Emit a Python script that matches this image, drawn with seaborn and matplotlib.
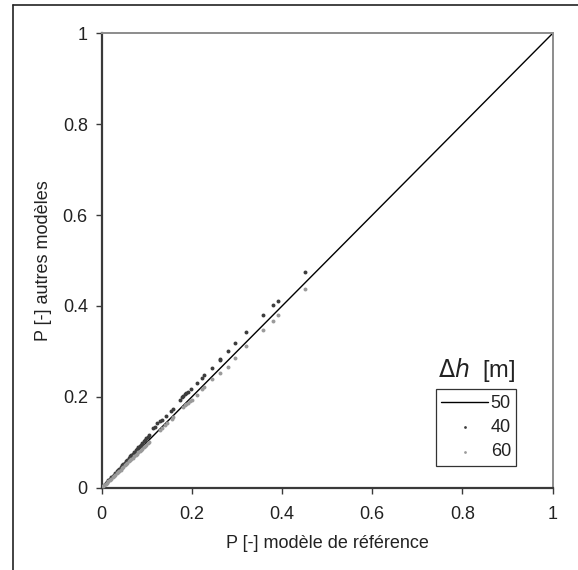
import matplotlib
matplotlib.use("Agg")
import matplotlib.pyplot as plt
from matplotlib.lines import Line2D
import seaborn as sns
import pandas as pd

# ---- data ----
line_x = [0.0, 1.0]
line_y = [0.0, 1.0]

x40 = [0.003, 0.006, 0.009, 0.012, 0.015, 0.018, 0.021, 0.024, 0.027, 0.030,
       0.033, 0.036, 0.039, 0.042, 0.045, 0.048, 0.051, 0.054, 0.057, 0.060,
       0.063, 0.066, 0.069, 0.072, 0.075, 0.078, 0.081, 0.084, 0.087, 0.090,
       0.093, 0.096, 0.099, 0.102, 0.105,
       0.114, 0.118, 0.122, 0.129, 0.133, 0.143, 0.153, 0.157, 0.174, 0.177,
       0.181, 0.185, 0.188, 0.192, 0.198, 0.211, 0.222, 0.227, 0.245, 0.262,
       0.263, 0.279, 0.296, 0.321, 0.358, 0.379, 0.390, 0.451]
y40 = [0.003, 0.007, 0.010, 0.013, 0.016, 0.020, 0.023, 0.026, 0.029, 0.033,
       0.036, 0.039, 0.042, 0.046, 0.049, 0.052, 0.055, 0.059, 0.062, 0.065,
       0.069, 0.072, 0.075, 0.079, 0.082, 0.085, 0.089, 0.092, 0.095, 0.099,
       0.102, 0.105, 0.109, 0.112, 0.116,
       0.131, 0.134, 0.142, 0.147, 0.150, 0.158, 0.169, 0.173, 0.192, 0.199,
       0.202, 0.206, 0.208, 0.211, 0.218, 0.230, 0.241, 0.247, 0.264, 0.280,
       0.284, 0.301, 0.318, 0.343, 0.379, 0.402, 0.411, 0.474]

x60 = [0.003, 0.006, 0.009, 0.012, 0.015, 0.018, 0.021, 0.024, 0.027, 0.030,
       0.033, 0.036, 0.039, 0.042, 0.045, 0.048, 0.051, 0.054, 0.057, 0.060,
       0.063, 0.066, 0.069, 0.072, 0.075, 0.078, 0.081, 0.084, 0.087, 0.090,
       0.093, 0.096, 0.099, 0.102, 0.105,
       0.129, 0.133, 0.140, 0.144, 0.155, 0.159, 0.181, 0.185, 0.188, 0.192,
       0.196, 0.200, 0.211, 0.222, 0.227, 0.245, 0.262, 0.279, 0.296, 0.321,
       0.358, 0.379, 0.390, 0.451]
y60 = [0.003, 0.006, 0.009, 0.011, 0.014, 0.017, 0.020, 0.023, 0.026, 0.029,
       0.032, 0.034, 0.037, 0.040, 0.043, 0.046, 0.049, 0.052, 0.055, 0.058,
       0.060, 0.063, 0.066, 0.069, 0.072, 0.075, 0.078, 0.081, 0.084, 0.086,
       0.089, 0.092, 0.095, 0.098, 0.101,
       0.127, 0.131, 0.138, 0.142, 0.152, 0.155, 0.178, 0.181, 0.184, 0.187,
       0.191, 0.194, 0.205, 0.217, 0.222, 0.239, 0.253, 0.266, 0.286, 0.312,
       0.346, 0.366, 0.379, 0.437]

ticks = [0, 0.2, 0.4, 0.6, 0.8, 1]
tick_labels = ["0", "0.2", "0.4", "0.6", "0.8", "1"]
xlabel = "P [-] modèle de référence"
ylabel = "P [-] autres modèles"

# ---- style ----
sns.set_style("white")
plt.rcParams['font.family'] = ['Liberation Sans', 'DejaVu Sans']
FS = 13
plt.rcParams['font.size'] = FS

fig = plt.figure(figsize=(5.78, 5.70), dpi=100)
ax = fig.add_axes([101.7 / 578, 1 - 487.7 / 570, 451 / 578, 454.4 / 570])

df_line = pd.DataFrame({"x": line_x, "y": line_y})
df40 = pd.DataFrame({"x": x40, "y": y40})
df60 = pd.DataFrame({"x": x60, "y": y60})

sns.lineplot(data=df_line, x="x", y="y", ax=ax, color="black", linewidth=1.0,
             label="50", zorder=2)
sns.scatterplot(data=df40, x="x", y="y", ax=ax, color="#3c3c3c", s=8,
                linewidth=0, marker="o", label="40", zorder=3)
sns.scatterplot(data=df60, x="x", y="y", ax=ax, color="#9a9a9a", s=8,
                linewidth=0, marker="o", label="60", zorder=3)

ax.set_xlim(0, 1)
ax.set_ylim(0, 1)
ax.set_xticks(ticks)
ax.set_xticklabels(tick_labels)
ax.set_yticks(ticks)
ax.set_yticklabels(tick_labels)
ax.set_xlabel(xlabel, fontsize=FS, color="#222222", labelpad=9)
ax.set_ylabel(ylabel, fontsize=FS, color="#222222", labelpad=8)

for side in ["left", "bottom"]:
    ax.spines[side].set_color("#3a3a3a")
    ax.spines[side].set_linewidth(1.6)
for side in ["top", "right"]:
    ax.spines[side].set_color("#8c8c8c")
    ax.spines[side].set_linewidth(1.4)

ax.tick_params(axis="x", which="both", direction="out", length=4, width=1,
               color="#3a3a3a", pad=9, labelsize=FS, labelcolor="#222222",
               bottom=True)
ax.tick_params(axis="y", which="both", direction="out", length=4, width=1,
               color="#3a3a3a", pad=6, labelsize=FS, labelcolor="#222222",
               left=True)

# legend
handles, labels = ax.get_legend_handles_labels()
order = [labels.index(l) for l in ["50", "40", "60"]]
leg = ax.legend([handles[i] for i in order], [labels[i] for i in order],
                loc="lower left",
                bbox_to_anchor=(0.7406, 0.0484, 0.918 - 0.7406, 0.2188 - 0.0484),
                mode="expand", frameon=True, fancybox=False, borderaxespad=0,
                handlelength=2.6, handletextpad=0.15, labelspacing=0.4,
                borderpad=0.3, fontsize=FS, markerscale=0.7)
leg.get_frame().set_edgecolor("black")
leg.get_frame().set_linewidth(0.9)
for t in leg.get_texts():
    t.set_ha("right")
    t.set_color("#222222")

ax.text(0.918, 0.259, r"$\Delta$$\it{h}$  [m]", transform=ax.transAxes,
        ha="right", va="center", fontsize=17, color="#222222")

# figure frame lines (left and top)
fig.add_artist(Line2D([12.7 / 578, 12.7 / 578], [0, 1 - 5.3 / 570],
                      transform=fig.transFigure, color="#222222", linewidth=1.2))
fig.add_artist(Line2D([12.7 / 578, 1], [1 - 5.3 / 570, 1 - 5.3 / 570],
                      transform=fig.transFigure, color="#222222", linewidth=1.2))

fig.savefig("out.png", dpi=100)
